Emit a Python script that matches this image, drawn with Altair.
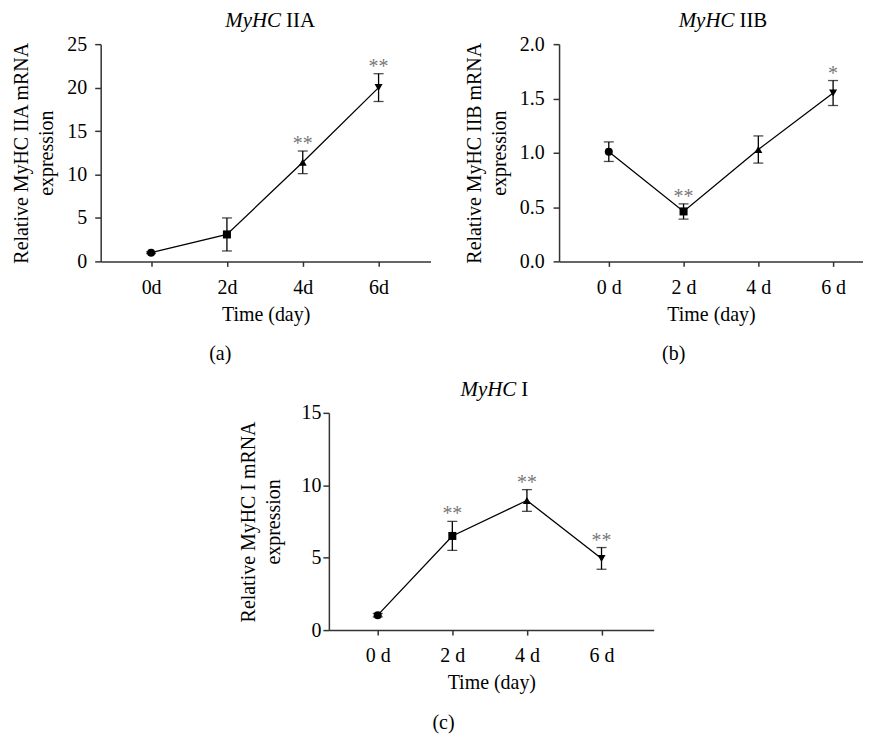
import altair as alt
import pandas as pd

days = [0, 2, 4, 6]
labels_a = ["0d", "2d", "4d", "6d"]
labels_bc = ["0 d", "2 d", "4 d", "6 d"]
shapes = ["circle", "square", "triangle-up", "triangle-down"]

a_mean = [1.0, 3.1, 11.4, 20.0]
a_err = [0.1, 1.9, 1.3, 1.6]
a_sig = ["", "", "**", "**"]

b_mean = [1.01, 0.46, 1.03, 1.55]
b_err = [0.09, 0.07, 0.125, 0.115]
b_sig = ["", "**", "", "*"]

c_mean = [1.03, 6.5, 8.95, 4.95]
c_err = [0.12, 1.0, 0.75, 0.75]
c_sig = ["", "**", "**", "**"]

FONT = "Liberation Serif"
H = 218


def panel(mean, err, sig, xlabels, yvals, yfmt, ital, roman, split, ytitle,
          ytitle_x, ylabpad, xdom, width, tag, tag_x):
    df = pd.DataFrame({
        "day": days,
        "mean": mean,
        "lo": [m - e for m, e in zip(mean, err)],
        "hi": [m + e for m, e in zip(mean, err)],
        "sig": sig,
        "shape": shapes,
    })
    label_expr = "[" + ",".join("'%s'" % l for l in xlabels) + "][datum.value/2]"
    x = alt.X("day:Q", scale=alt.Scale(domain=xdom, nice=False, zero=False),
              axis=alt.Axis(values=days, labelExpr=label_expr, tickSize=5,
                            labelPadding=27, labelBaseline="alphabetic",
                            title="Time (day)", titleBaseline="alphabetic",
                            titleY=59, domainWidth=1.5, tickWidth=1.5))
    y_scale = alt.Scale(domain=[yvals[0], yvals[-1]], nice=False)
    y = alt.Y("mean:Q", scale=y_scale,
              axis=alt.Axis(values=yvals, format=yfmt, tickSize=6,
                            labelPadding=ylabpad, title=ytitle,
                            titleX=ytitle_x, titleY=H / 2, titleAngle=-90,
                            titleBaseline="alphabetic", titleAlign="center",
                            titleLineHeight=25, domainWidth=1.5, tickWidth=1.5))
    base = alt.Chart(df)
    line = base.mark_line(color="black", strokeWidth=1.3).encode(x=x, y=y)
    rule = base.mark_rule(color="black", strokeWidth=1.3).encode(
        x="day:Q", y=alt.Y("lo:Q", scale=y_scale), y2="hi:Q")
    cap_lo = base.mark_tick(color="black", orient="horizontal", size=10,
                            thickness=1.3).encode(x="day:Q", y=alt.Y("lo:Q", scale=y_scale))
    cap_hi = base.mark_tick(color="black", orient="horizontal", size=10,
                            thickness=1.3).encode(x="day:Q", y=alt.Y("hi:Q", scale=y_scale))
    pts = base.mark_point(filled=True, color="black", opacity=1, size=65).encode(
        x="day:Q", y=alt.Y("mean:Q", scale=y_scale),
        shape=alt.Shape("shape:N", scale=None))
    stars = base.mark_text(font=FONT, fontSize=20, color="#777777",
                           baseline="alphabetic", dy=-1).encode(
        x="day:Q", y=alt.Y("hi:Q", scale=y_scale), text="sig:N")
    t1 = alt.Chart(pd.DataFrame({"t": [ital]})).mark_text(
        font=FONT, fontSize=21, fontStyle="italic", align="right",
        baseline="alphabetic", color="black").encode(
        text="t:N", x=alt.value(split), y=alt.value(-17))
    t2 = alt.Chart(pd.DataFrame({"t": [roman]})).mark_text(
        font=FONT, fontSize=21, align="left",
        baseline="alphabetic", color="black").encode(
        text="t:N", x=alt.value(split + 5), y=alt.value(-17))
    t3 = alt.Chart(pd.DataFrame({"t": [tag]})).mark_text(
        font=FONT, fontSize=20, align="center",
        baseline="middle", color="black").encode(
        text="t:N", x=alt.value(tag_x), y=alt.value(311))
    return alt.layer(line, rule, cap_lo, cap_hi, pts, stars, t1, t2, t3).properties(
        width=width, height=H)


pa = panel(a_mean, a_err, a_sig, labels_a, [0, 5, 10, 15, 20, 25], "d",
           "MyHC", "IIA", 181, ["Relative MyHC IIA mRNA", "expression"],
           -73, 8, [-1.33, 7.37], 331, "(a)", 120)
pb = panel(b_mean, b_err, b_sig, labels_bc, [0, 0.5, 1.0, 1.5, 2.0], ".1f",
           "MyHC", "IIB", 176, ["Relative MyHC IIB mRNA", "expression"],
           -79, 9, [-1.33, 6.8], 305, "(b)", 115)
pc = panel(c_mean, c_err, c_sig, labels_bc, [0, 5, 10, 15], "d",
           "MyHC", "I", 188, ["Relative MyHC I mRNA", "expression"],
           -75, 2, [-1.31, 7.4], 326, "(c)", 115)

spacer = alt.Chart(pd.DataFrame({"v": [0]})).mark_point(opacity=0).encode(
    x=alt.X("v:Q", axis=None), y=alt.Y("v:Q", axis=None)).properties(width=137, height=10)

chart = alt.vconcat(
    alt.hconcat(pa, pb, spacing=33),
    alt.hconcat(spacer, pc, spacing=0),
    spacing=15,
).properties(
    padding={"left": 3, "top": 1, "right": 0, "bottom": 0}
).configure_view(stroke=None).configure_axis(
    grid=False, domainColor="#333333", tickColor="#333333",
    labelFont=FONT, titleFont=FONT, labelFontSize=20, titleFontSize=20,
    labelColor="black", titleColor="black", titleFontWeight="normal"
)

chart.save("out.html", embed_options={"renderer": "svg", "actions": False})
